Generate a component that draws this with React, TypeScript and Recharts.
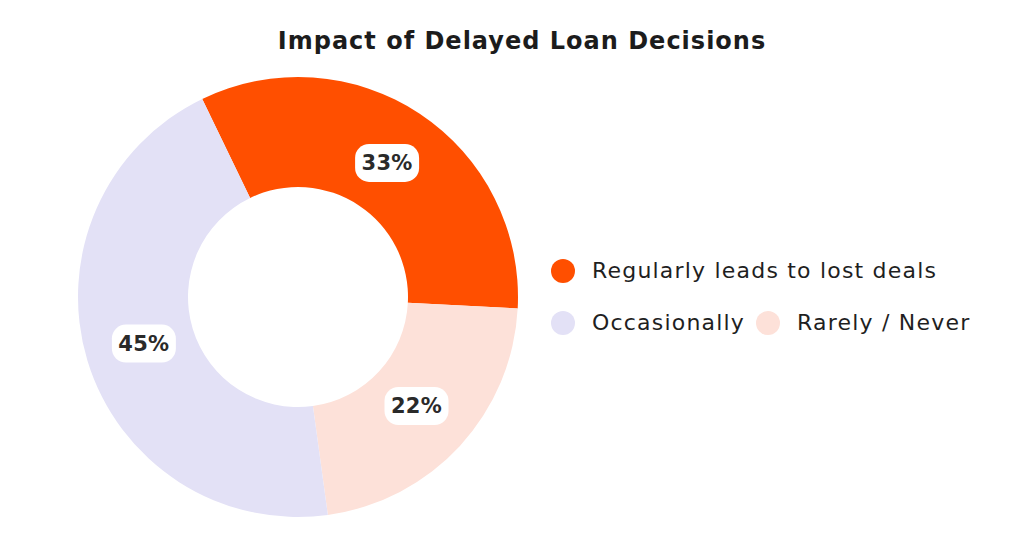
import React from 'react';
import { PieChart, Pie, Cell } from 'recharts';

const categories = ['Regularly leads to lost deals', 'Rarely / Never', 'Occasionally'];
const values = [33, 22, 45];
const COLORS = ['#FF4F00', '#FDE1D9', '#E3E1F6'];
const legendRows = [[0], [2, 1]];

const data = categories.map((name, i) => ({ name, value: values[i] }));
const FONT = '"DejaVu Sans", sans-serif';
const RAD = Math.PI / 180;

const renderLabel = (props: any) => {
    const { cx, cy, midAngle, innerRadius, outerRadius, value } = props;
    const r = (innerRadius + outerRadius) / 2 - 4;
    const x = cx + r * Math.cos(-midAngle * RAD);
    const y = cy + r * Math.sin(-midAngle * RAD);
    return (
        <g>
            <rect x={x - 32} y={y - 19} width={64} height={38} rx={14} fill="#fff" />
            <text x={x} y={y + 1} textAnchor="middle" dominantBaseline="middle"
                style={{ fontFamily: FONT, fontSize: 21, fontWeight: 700, fill: '#2a2a2a', letterSpacing: 0.3 }}>
                {value}%
            </text>
        </g>
    );
};

const LegendBlock = () => {
    const item = (i: number) => (
        <div key={i} style={{ display: 'flex', alignItems: 'center', marginRight: 11 }}>
            <span style={{ width: 24, height: 24, borderRadius: '50%', background: COLORS[i], display: 'inline-block', marginRight: 17 }} />
            <span style={{ fontSize: 22, color: '#1f1f1f', fontFamily: FONT, letterSpacing: 1.2 }}>{categories[i]}</span>
        </div>
    );
    return (
        <div style={{ position: 'absolute', left: 551, top: 258, display: 'flex', flexDirection: 'column', gap: 27 }}>
            {legendRows.map((row, r) => (
                <div key={r} style={{ display: 'flex' }}>{row.map(item)}</div>
            ))}
        </div>
    );
};

export default function App() {
    return (
        <div style={{ position: 'absolute', left: 0, top: 0, width: 1024, height: 536, background: '#fff' }}>
            <div style={{
                position: 'absolute', top: 27, left: 0, width: 1044, textAlign: 'center',
                fontFamily: FONT, fontWeight: 700, fontSize: 24, letterSpacing: 1, color: '#1c1c1c'
            }}>
                Impact of Delayed Loan Decisions
            </div>
            <PieChart width={1024} height={536} margin={{ top: 0, right: 0, bottom: 0, left: 0 }}>
                <Pie
                    data={data}
                    dataKey="value"
                    cx={298}
                    cy={297}
                    innerRadius={110}
                    outerRadius={220}
                    startAngle={115.8}
                    endAngle={-244.2}
                    stroke="none"
                    label={renderLabel}
                    labelLine={false}
                    isAnimationActive={false}
                >
                    {data.map((_, i) => (
                        <Cell key={`cell-${i}`} fill={COLORS[i]} />
                    ))}
                </Pie>
            </PieChart>
            <LegendBlock />
        </div>
    );
}
